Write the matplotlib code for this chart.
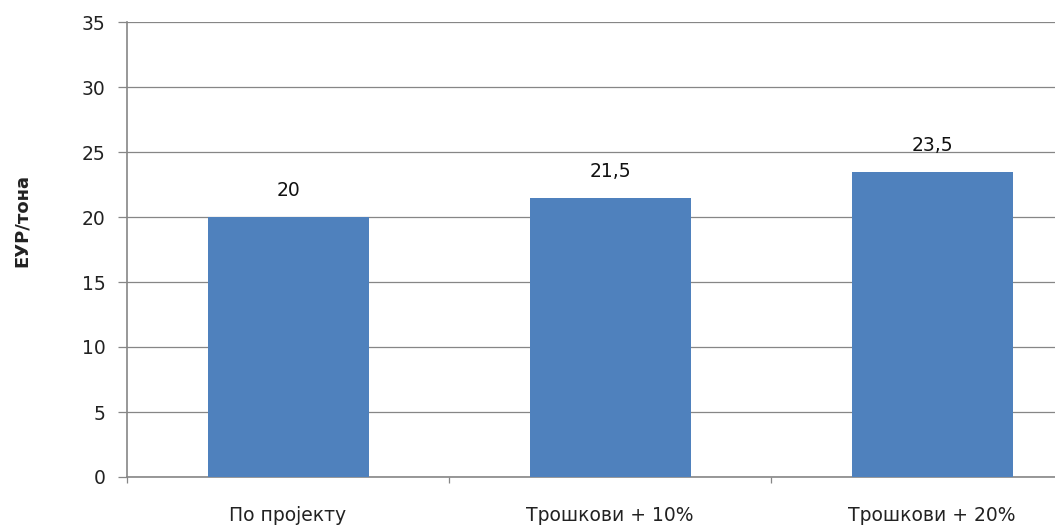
import matplotlib
matplotlib.use("Agg")
import matplotlib.pyplot as plt

categories = ["По пројекту", "Трошкови + 10%", "Трошкови + 20%"]
values = [20, 21.5, 23.5]
value_labels = ["20", "21,5", "23,5"]
y_ticks = [0, 5, 10, 15, 20, 25, 30, 35]

W, H = 1055, 528
fig = plt.figure(figsize=(W / 100, H / 100), dpi=100)
left, right, top, bottom = 127, 1093, 22, 477
ax = fig.add_axes([left / W, (H - bottom) / H, (right - left) / W, (bottom - top) / H])

grid_c = "#868686"
bar_c = "#4F81BD"
fs = 13.5
x = list(range(len(categories)))
ax.bar(x, values, width=0.5, color=bar_c, zorder=3)
for xi, v, lab in zip(x, values, value_labels):
    ax.annotate(lab, (xi, v), xytext=(0, 19), textcoords="offset points",
                ha="center", va="center", fontsize=fs, color="#111111")

ax.set_xlim(-0.5, len(categories) - 0.5)
ax.set_ylim(0, 35)
ax.set_yticks(y_ticks)
ax.set_yticklabels([str(t) for t in y_ticks], fontsize=fs, color="#222222")
ax.yaxis.grid(True, color=grid_c, linewidth=0.9, zorder=0)
ax.set_axisbelow(True)

ax.set_xticks(x)
ax.set_xticklabels(categories, fontsize=fs, color="#222222")
ax.set_xticks([i + 0.5 for i in range(-1, len(categories))], minor=True)
ax.tick_params(axis="x", which="major", length=0, pad=21)
ax.tick_params(axis="x", which="minor", length=4, color=grid_c, width=0.9)
ax.tick_params(axis="y", length=6.5, color=grid_c, width=0.9, pad=9)

for s in ["top", "right"]:
    ax.spines[s].set_visible(False)
for s in ["left", "bottom"]:
    ax.spines[s].set_color(grid_c)
    ax.spines[s].set_linewidth(1.2)

fig.text(22 / W, 1 - 220 / H, "ЕУР/тона", rotation=90, ha="center", va="center",
         fontsize=13, fontweight="bold", color="#222222")

fig.savefig("out.png", dpi=100)
